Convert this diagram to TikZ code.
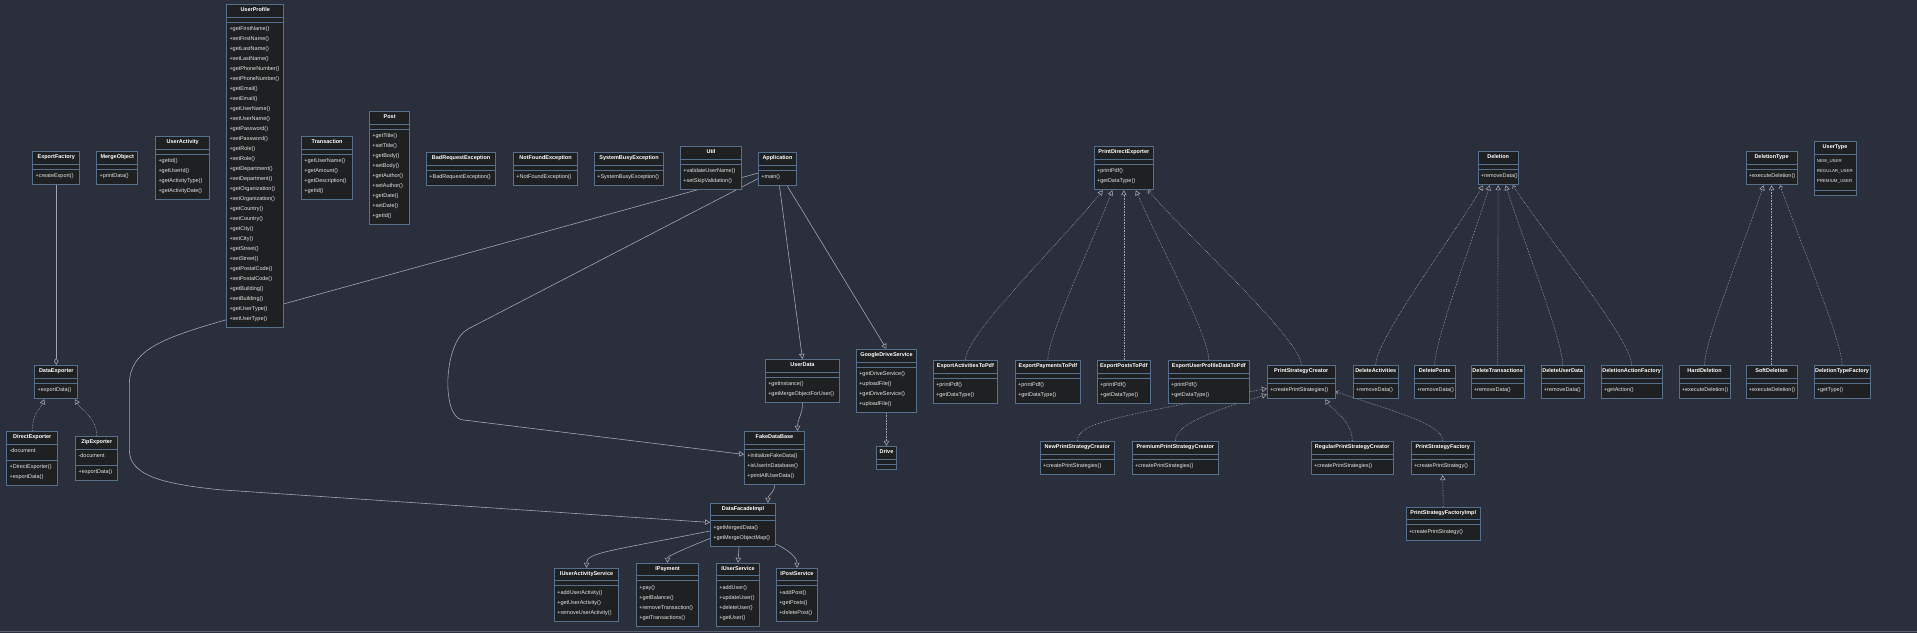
\documentclass[tikz,border=0pt]{standalone}
\usepackage{fontspec}
\setmainfont{Liberation Sans}
\usetikzlibrary{arrows.meta,calc}
\definecolor{bgc}{HTML}{2A2F3B}
\definecolor{boxfill}{HTML}{1F2021}
\definecolor{boxline}{HTML}{56708C}
\definecolor{txtc}{HTML}{E6E6E6}
\definecolor{edgec}{HTML}{A0A5AE}
\definecolor{framec}{HTML}{5B6170}
\pgfdeclarelayer{back}
\pgfdeclarelayer{edges}
\pgfsetlayers{back,edges,main}
\tikzset{
 clsbox/.style={draw=boxline, fill=boxfill, line width=0.8pt, inner sep=0pt, rectangle},
 clsline/.style={draw=boxline, line width=0.6pt},
 clstitle/.style={font=\fontsize{5.5}{6}\selectfont\bfseries, text=white, inner sep=0pt, text height=4.2pt, text depth=1.2pt},
 clstext/.style={font=\fontsize{5.5}{6}\selectfont, text=txtc, inner sep=0pt, text height=4.2pt, text depth=1.2pt, anchor=west},
 conn/.style={draw=edgec, line width=0.6pt},
 dotconn/.style={conn, densely dotted},
 inh/.style={-{Triangle[open, length=5pt, width=5.5pt]}},
 dep/.style={-{Straight Barb[length=2.5pt, width=4pt]}},
 aggr/.style={-{Diamond[open, length=7pt, width=4.5pt]}},
}
\newcommand{\capsz}{\fontsize{4.4}{5}\selectfont}
% #1 name #2 x #3 y #4 w #5 title #6 nattr #7 attrs #8 nmeth #9 methods
\newcommand{\umlcls}[9]{%
 \pgfmathsetmacro{\clsa}{ifthenelse(#6==0,5,10*#6+6)}%
 \pgfmathsetmacro{\clsm}{ifthenelse(#8==0,5,10*#8+5.5)}%
 \pgfmathsetmacro{\clsh}{13+\clsa+\clsm}%
 \node[clsbox, minimum width=#4pt, minimum height=\clsh pt, anchor=north west] (#1) at (#2,#3) {};
 \draw[clsline] ($(#1.north west)+(0,13)$) -- ($(#1.north east)+(0,13)$);
 \draw[clsline] ($(#1.north west)+(0,13+\clsa)$) -- ($(#1.north east)+(0,13+\clsa)$);
 \node[clstitle] at ($(#1.north)+(0,6.5)$) {#5};
 \ifnum#6>0 \foreach \mline [count=\kk] in {#7} {\node[clstext] at ($(#1.north west)+(3,13+7.5+10*\kk-10)$) {\mline};}\fi
 \ifnum#8>0 \foreach \mline [count=\kk] in {#9} {\node[clstext] at ($(#1.north west)+(3,13+\clsa+7.5+10*\kk-10)$) {\mline};}\fi
}
\newcommand{\upc}[4]{\draw[#1] (#2) .. controls ($(#2)+(0,-#4)$) and ($(#3)!0.3!(#2)$) .. (#3);}
\begin{document}
\begin{tikzpicture}[x=1pt,y=-1pt]
\begin{pgfonlayer}{back}
\fill[bgc] (0,0) rectangle (1917,633);
\draw[framec, line width=0.8pt] (0,632) -- (1917,632);
\end{pgfonlayer}
\useasboundingbox (0,0) rectangle (1917,633);

\umlcls{ExportFactory}{32}{151}{47}{ExportFactory}{0}{}{1}{+createExport()}
\umlcls{MergeObject}{96}{151}{41}{MergeObject}{0}{}{1}{+printData()}
\umlcls{UserActivity}{155}{136}{54}{UserActivity}{0}{}{4}{+getId(),+getUserId(),+getActivityType(),+getActivityDate()}
\umlcls{UserProfile}{226}{4}{57}{UserProfile}{0}{}{30}{+getFirstName(),+setFirstName(),+getLastName(),+setLastName(),+getPhoneNumber(),+setPhoneNumber(),+getEmail(),+setEmail(),+getUserName(),+setUserName(),+getPassword(),+setPassword(),+getRole(),+setRole(),+getDepartment(),+setDepartment(),+getOrganization(),+setOrganization(),+getCountry(),+setCountry(),+getCity(),+setCity(),+getStreet(),+setStreet(),+getPostalCode(),+setPostalCode(),+getBuilding(),+setBuilding(),+getUserType(),+setUserType()}
\umlcls{Transaction}{301}{136}{51}{Transaction}{0}{}{4}{+getUserName(),+getAmount(),+getDescription(),+getId()}
\umlcls{Post}{369}{111}{40}{Post}{0}{}{9}{+getTitle(),+setTitle(),+getBody(),+setBody(),+getAuthor(),+setAuthor(),+getDate(),+setDate(),+getId()}
\umlcls{BadRequestException}{426}{152}{69}{BadRequestException}{0}{}{1}{+BadRequestException()}
\umlcls{NotFoundException}{513}{152}{64}{NotFoundException}{0}{}{1}{+NotFoundException()}
\umlcls{SystemBusyException}{594}{152}{69}{SystemBusyException}{0}{}{1}{+SystemBusyException()}
\umlcls{Util}{680}{146}{61}{Util}{0}{}{2}{+validateUserName(),+setSkipValidation()}
\umlcls{Application}{758}{152}{38}{Application}{0}{}{1}{+main()}
\umlcls{UserData}{765}{359}{74}{UserData}{0}{}{2}{+getInstance(),+getMergeObjectForUser()}
\umlcls{GoogleDriveService}{856}{349}{60}{GoogleDriveService}{0}{}{4}{+getDriveService(),+uploadFile(),+getDriveService(),+uploadFile()}
\umlcls{Drive}{876}{446}{20}{Drive}{0}{}{0}{}
\umlcls{FakeDataBase}{744}{431}{60}{FakeDataBase}{0}{}{3}{+initializeFakeData(),+isUserInDatabase(),+printAllUserData()}
\umlcls{DataFacadeImpl}{710}{503}{65}{DataFacadeImpl}{0}{}{2}{+getMergedData(),+getMergeObjectMap()}
\umlcls{IUserActivityService}{554}{568}{64}{IUserActivityService}{0}{}{3}{+addUserActivity(),+getUserActivity(),+removeUserActivity()}
\umlcls{IPayment}{636}{563}{62}{IPayment}{0}{}{4}{+pay(),+getBalance(),+removeTransaction(),+getTransactions()}
\umlcls{IUserService}{716}{563}{43}{IUserService}{0}{}{4}{+addUser(),+updateUser(),+deleteUser(),+getUser()}
\umlcls{IPostService}{776}{568}{41}{IPostService}{0}{}{3}{+addPost(),+getPosts(),+deletePost()}
\umlcls{DataExporter}{34}{365}{43}{DataExporter}{0}{}{1}{+exportData()}
\umlcls{DirectExporter}{6}{431}{51}{DirectExporter}{1}{-document}{2}{+DirectExporter(),+exportData()}
\umlcls{ZipExporter}{75}{436}{42}{ZipExporter}{1}{-document}{1}{+exportData()}
\umlcls{PrintDirectExporter}{1094}{146}{59}{PrintDirectExporter}{0}{}{2}{+printPdf(),+getDataType()}
\umlcls{ExportActivitiesToPdf}{933}{360}{64}{ExportActivitiesToPdf}{0}{}{2}{+printPdf(),+getDataType()}
\umlcls{ExportPaymentsToPdf}{1015}{360}{65}{ExportPaymentsToPdf}{0}{}{2}{+printPdf(),+getDataType()}
\umlcls{ExportPostsToPdf}{1097}{360}{53}{ExportPostsToPdf}{0}{}{2}{+printPdf(),+getDataType()}
\umlcls{ExportUserProfileDataToPdf}{1168}{360}{81}{ExportUserProfileDataToPdf}{0}{}{2}{+printPdf(),+getDataType()}
\umlcls{PrintStrategyCreator}{1267}{365}{68}{PrintStrategyCreator}{0}{}{1}{+createPrintStrategies()}
\umlcls{NewPrintStrategyCreator}{1040}{441}{74}{NewPrintStrategyCreator}{0}{}{1}{+createPrintStrategies()}
\umlcls{PremiumPrintStrategyCreator}{1132}{441}{86}{PremiumPrintStrategyCreator}{0}{}{1}{+createPrintStrategies()}
\umlcls{RegularPrintStrategyCreator}{1311}{441}{82}{RegularPrintStrategyCreator}{0}{}{1}{+createPrintStrategies()}
\umlcls{PrintStrategyFactory}{1411}{441}{63}{PrintStrategyFactory}{0}{}{1}{+createPrintStrategy()}
\umlcls{PrintStrategyFactoryImpl}{1406}{507}{74}{PrintStrategyFactoryImpl}{0}{}{1}{+createPrintStrategy()}
\umlcls{Deletion}{1478}{151}{40}{Deletion}{0}{}{1}{+removeData()}
\umlcls{DeletionType}{1746}{151}{51}{DeletionType}{0}{}{1}{+executeDeletion()}
\umlcls{UserType}{1814}{141}{42}{UserType}{3}{\capsz NEW\_USER,\capsz REGULAR\_USER,\capsz PREMIUM\_USER}{0}{}
\umlcls{DeleteActivities}{1353}{365}{45}{DeleteActivities}{0}{}{1}{+removeData()}
\umlcls{DeletePosts}{1414}{365}{41}{DeletePosts}{0}{}{1}{+removeData()}
\umlcls{DeleteTransactions}{1471}{365}{53}{DeleteTransactions}{0}{}{1}{+removeData()}
\umlcls{DeleteUserData}{1541}{365}{43}{DeleteUserData}{0}{}{1}{+removeData()}
\umlcls{DeletionActionFactory}{1601}{365}{61}{DeletionActionFactory}{0}{}{1}{+getAction()}
\umlcls{HardDeletion}{1679}{365}{51}{HardDeletion}{0}{}{1}{+executeDeletion()}
\umlcls{SoftDeletion}{1746}{365}{51}{SoftDeletion}{0}{}{1}{+executeDeletion()}
\umlcls{DeletionTypeFactory}{1814}{365}{56}{DeletionTypeFactory}{0}{}{1}{+getType()}

\begin{pgfonlayer}{edges}
\draw[conn,aggr] (ExportFactory.south) -- (DataExporter.north);
\upc{dotconn,inh}{DirectExporter.north}{[xshift=-12pt]DataExporter.south}{18}
\upc{dotconn,inh}{ZipExporter.north}{[xshift=18.5pt]DataExporter.south}{18}

\draw[conn,inh] ([xshift=2pt]Application.south) -- (UserData.north);
\draw[conn,inh] ([xshift=10pt]Application.south) -- (GoogleDriveService.north);
\draw[conn,inh] ([yshift=-9.5pt]Application.west) -- (468,329) .. controls (443,342) and (441,417) .. (462,420) -- ([yshift=3.5pt]FakeDataBase.west);
\draw[conn,inh] ([yshift=-4pt]Application.west) -- (240,316) .. controls (160,338) and (129,350) .. (129,385) -- (129,450) .. controls (129,475) and (160,484) .. (220,490) -- ([yshift=2.5pt]DataFacadeImpl.west);
\draw[conn,inh] (UserData.south) .. controls +(0,12) and +(0,-12) .. ([xshift=23pt]FakeDataBase.north);
\draw[dotconn,inh] (GoogleDriveService.south) -- (Drive.north);
\draw[conn,inh] (FakeDataBase.south) .. controls +(0,8) and +(0,-8) .. ([xshift=25pt]DataFacadeImpl.north);
\draw[conn,inh] ([yshift=-6pt]DataFacadeImpl.west) .. controls +(-100,20) and +(0,-15) .. (IUserActivityService.north);
\draw[conn,inh] ([yshift=-13.5pt]DataFacadeImpl.west) .. controls +(-35,14) and +(0,-6) .. (IPayment.north);
\draw[conn,inh] ([xshift=-4pt]DataFacadeImpl.south) -- (IUserService.north);
\draw[conn,inh] ([yshift=-19pt]DataFacadeImpl.east) .. controls +(14,7) and +(0,-10) .. (IPostService.north);

\upc{dotconn,inh}{ExportActivitiesToPdf.north}{[xshift=-21pt]PrintDirectExporter.south}{25}
\upc{dotconn,inh}{ExportPaymentsToPdf.north}{[xshift=-11.5pt]PrintDirectExporter.south}{25}
\draw[dotconn,inh] (ExportPostsToPdf.north) -- (PrintDirectExporter.south);
\upc{dotconn,inh}{ExportUserProfileDataToPdf.north}{[xshift=12pt]PrintDirectExporter.south}{25}
\upc{dotconn,dep}{PrintStrategyCreator.north}{[xshift=24pt]PrintDirectExporter.south}{25}

\draw[dotconn,inh] (NewPrintStrategyCreator.north) .. controls +(0,-18) and +(-150,28) .. ([yshift=-6.5pt]PrintStrategyCreator.west);
\draw[dotconn,inh] (PremiumPrintStrategyCreator.north) .. controls +(0,-15) and +(-60,18) .. ([yshift=-12.5pt]PrintStrategyCreator.west);
\draw[dotconn,inh] (RegularPrintStrategyCreator.north) .. controls +(0,-20) and +(8,12) .. ([xshift=24pt]PrintStrategyCreator.south);
\draw[dotconn,dep] (PrintStrategyFactory.north) .. controls +(0,-18) and +(50,18) .. ([yshift=-9.5pt]PrintStrategyCreator.east);
\draw[dotconn,inh] (PrintStrategyFactoryImpl.north) -- (PrintStrategyFactory.south);

\upc{dotconn,inh}{DeleteActivities.north}{[xshift=-15pt]Deletion.south}{25}
\upc{dotconn,inh}{DeletePosts.north}{[xshift=-8.5pt]Deletion.south}{25}
\draw[dotconn,inh] (DeleteTransactions.north) -- (Deletion.south);
\upc{dotconn,inh}{DeleteUserData.north}{[xshift=7.5pt]Deletion.south}{25}
\upc{dotconn,dep}{DeletionActionFactory.north}{[xshift=14.5pt]Deletion.south}{25}

\upc{dotconn,inh}{HardDeletion.north}{[xshift=-8pt]DeletionType.south}{25}
\draw[dotconn,inh] (SoftDeletion.north) -- (DeletionType.south);
\upc{dotconn,dep}{DeletionTypeFactory.north}{[xshift=8.5pt]DeletionType.south}{25}
\end{pgfonlayer}
\end{tikzpicture}
\end{document}
